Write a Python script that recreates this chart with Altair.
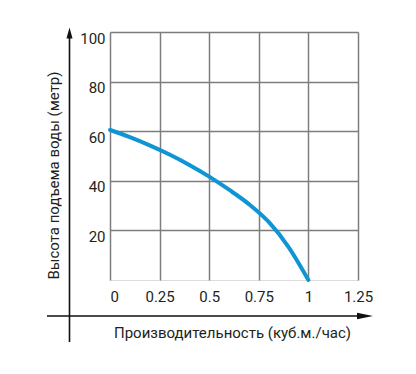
import altair as alt
import pandas as pd

# Data
flow = [0, 0.1, 0.2, 0.3, 0.4, 0.5, 0.6, 0.7, 0.8, 0.9, 1.0]
head = [60.5, 57.6, 54.3, 50.6, 46.4, 41.7, 36.4, 30.6, 23.4, 13.3, 0.0]

x_ticks = [0, 0.25, 0.5, 0.75, 1, 1.25]
y_ticks = [20, 40, 60, 80, 100]
x_title = "Производительность (куб.м./час)"
y_title = "Высота подъема воды (метр)"

FONT = "Roboto"
TXT = "#231f20"
GRID = "#7d7d7d"

df = pd.DataFrame({"flow": flow, "head": head})
one = pd.DataFrame({"k": [0]})

curve = alt.Chart(df).mark_line(
    color="#0f95d4", strokeWidth=4, interpolate="monotone", strokeCap="round"
).encode(
    x=alt.X("flow:Q",
            scale=alt.Scale(domain=[0, 1.25], nice=False, zero=False),
            axis=alt.Axis(values=x_ticks, labelExpr="'' + datum.value", grid=True,
                          gridColor=GRID, gridWidth=1.5, domain=False, ticks=False,
                          labelPadding=9, labelFlush=False,
                          labelAlign={"condition": {"test": "datum.value == 0", "value": "left"},
                                      "value": "center"},
                          labelFont=FONT, labelFontSize=15, labelColor=TXT,
                          title=x_title, titleFont=FONT, titleFontSize=15,
                          titleFontWeight="normal", titleColor=TXT,
                          titleX=122, titleY=52, titleBaseline="middle")),
    y=alt.Y("head:Q",
            scale=alt.Scale(domain=[0, 100], nice=False),
            axis=alt.Axis(values=y_ticks, grid=True, gridColor=GRID, gridWidth=1.5,
                          domain=False, ticks=False, labelPadding=5, labelOffset=6,
                          labelFont=FONT, labelFontSize=15, labelColor=TXT,
                          title=y_title, titleFont=FONT, titleFontSize=15,
                          titleFontWeight="normal", titleColor=TXT,
                          titleX=-57, titleY=143, titleAngle=-90,
                          titleBaseline="middle", titleAlign="center")),
)

vline = alt.Chart(one).mark_rule(color="#111", strokeWidth=1.6).encode(
    x=alt.value(-40.5), y=alt.value(2), y2=alt.value(310))
hline = alt.Chart(one).mark_rule(color="#111", strokeWidth=1.6).encode(
    x=alt.value(-63), x2=alt.value(255), y=alt.value(284))
up_arrow = alt.Chart(one).mark_point(
    shape="M0,-1L0.55,1L-0.55,1Z", filled=True, color="#111", opacity=1, size=121
).encode(x=alt.value(-40.5), y=alt.value(1))
right_arrow = alt.Chart(one).mark_point(
    shape="M1,0L-1,-0.4L-1,0.4Z", filled=True, color="#111", opacity=1, size=256
).encode(x=alt.value(255), y=alt.value(284))

chart = alt.layer(curve, vline, hline, up_arrow, right_arrow).properties(
    width=248, height=248,
    autosize=alt.AutoSizeParams(type="none"),
    padding={"left": 102, "top": 24, "right": 50, "bottom": 70},
).configure_view(stroke=GRID, strokeWidth=1.5).configure(background="white")

chart.save("out.html", embed_options={"renderer": "svg", "actions": False})
